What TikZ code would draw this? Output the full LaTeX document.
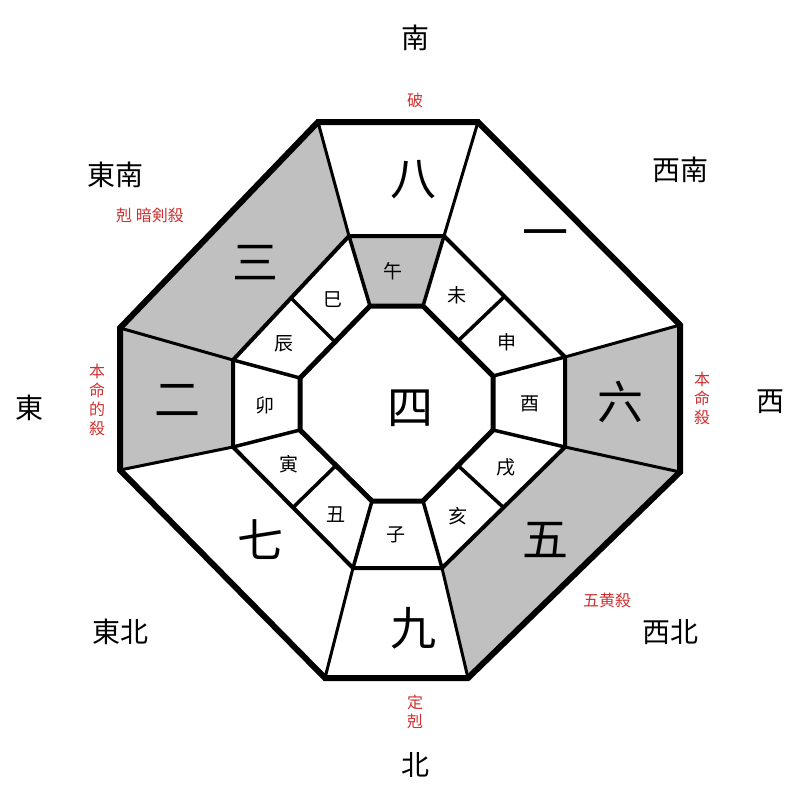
\documentclass[tikz,border=0pt]{standalone}
\usepackage{fontspec}
\usetikzlibrary{calc}
\newfontfamily\cjk{Noto Sans CJK SC}
\definecolor{cellgray}{HTML}{C0C0C0}
\definecolor{warn}{HTML}{D03030}
\tikzset{
  star/.style={font=\cjk\fontsize{46}{46}\selectfont},
  branch/.style={font=\cjk\fontsize{19}{19}\selectfont},
  dir/.style={font=\cjk\fontsize{28}{28}\selectfont},
  note/.style={font=\cjk\fontsize{16}{19}\selectfont, text=warn, align=center},
}
\begin{document}
\begin{tikzpicture}[x=1pt,y=-1pt]
        \useasboundingbox (0,0) rectangle (800,800);
        % outer octagon
        \coordinate (o1) at (318,122); \coordinate (o2) at (478,122);
        \coordinate (o3) at (680,325); \coordinate (o4) at (680,472);
        \coordinate (o5) at (468,678); \coordinate (o6) at (325,678);
        \coordinate (o7) at (120,470); \coordinate (o8) at (120,328);
        % middle octagon
        \coordinate (m1) at (349,236); \coordinate (m2) at (444,236);
        \coordinate (m3) at (565,357); \coordinate (m4) at (565,447);
        \coordinate (m5) at (442,568); \coordinate (m6) at (353,568);
        \coordinate (m7) at (233,447); \coordinate (m8) at (233,360);
        % inner octagon
        \coordinate (i1) at (370,306); \coordinate (i2) at (423,306);
        \coordinate (i3) at (493,376); \coordinate (i4) at (493,430);
        \coordinate (i5) at (423,501); \coordinate (i6) at (372,501);
        \coordinate (i7) at (300,430); \coordinate (i8) at (300,378);

        \fill[cellgray] (o1) -- (m1) -- (m8) -- (o8) -- cycle;
        \fill[cellgray] (o8) -- (m8) -- (m7) -- (o7) -- cycle;
        \fill[cellgray] (o3) -- (m3) -- (m4) -- (o4) -- cycle;
        \fill[cellgray] (o4) -- (m4) -- (m5) -- (o5) -- cycle;
        \fill[cellgray] (m1) -- (m2) -- (i2) -- (i1) -- cycle;

        \draw[line width=4pt] (m1) -- (m2) -- (m3) -- (m4) -- (m5) -- (m6) -- (m7) -- (m8) -- cycle;
        \draw[line width=3pt] (o1) -- (m1) (o2) -- (m2) (o3) -- (m3) (o4) -- (m4)
                              (o5) -- (m5) (o6) -- (m6) (o7) -- (m7) (o8) -- (m8);
        \draw[line width=3.5pt] (i1) -- (m1) (i2) -- (m2) (i3) -- (m3) (i4) -- (m4)
                                (i5) -- (m5) (i6) -- (m6) (i7) -- (m7) (i8) -- (m8);
        \draw[line width=3.5pt] ($(i2)!0.5!(i3)$) -- ($(m2)!0.5!(m3)$)
                                ($(i4)!0.5!(i5)$) -- ($(m4)!0.5!(m5)$)
                                ($(i6)!0.5!(i7)$) -- ($(m6)!0.5!(m7)$)
                                ($(i8)!0.5!(i1)$) -- ($(m8)!0.5!(m1)$);
        \draw[line width=5pt] (i1) -- (i2) -- (i3) -- (i4) -- (i5) -- (i6) -- (i7) -- (i8) -- cycle;
        \draw[line width=6pt, line join=miter] (o1) -- (o2) -- (o3) -- (o4) -- (o5) -- (o6) -- (o7) -- (o8) -- cycle;

        \node[star] (s4) at (410,408) {四};
        \node[star] (s8) at (413,180) {八};
        \node[star] (s1) at (545,240) {一};
        \node[star] (s6) at (620,402) {六};
        \node[star] (s5) at (545,540) {五};
        \node[star] (s9) at (413,628) {九};
        \node[star] (s7) at (260,540) {七};
        \node[star] (s2) at (177,400) {二};
        \node[star] (s3) at (255,263) {三};

        \node[branch] (wu) at (393,271) {午};
        \node[branch] (wei) at (457,295) {未};
        \node[branch] (shen) at (507,342) {申};
        \node[branch] (you) at (530,404) {酉};
        \node[branch] (xu) at (506,467) {戌};
        \node[branch] (hai) at (458,516) {亥};
        \node[branch] (zi) at (396,535) {子};
        \node[branch] (chou) at (336,515) {丑};
        \node[branch] (yin) at (289,464) {寅};
        \node[branch] (mao) at (265,405) {卯};
        \node[branch] (chen) at (284,344) {辰};
        \node[branch] (si) at (333,300) {巳};

        \node[dir] (south) at (415,38) {南};
        \node[dir] (north) at (415,765) {北};
        \node[dir] (east) at (30,408) {東};
        \node[dir] (west) at (770,402) {西};
        \node[dir] (se) at (115,175) {東南};
        \node[dir] (sw) at (680,170) {西南};
        \node[dir] (ne) at (120,632) {東北};
        \node[dir] (nw) at (670,632) {西北};

        \node[note] (po) at (415,100) {破};
        \node[note] (ankensatsu) at (150,215) {剋\ 暗剣殺};
        \node[note] (honmeiteki) at (97,400) {本\\命\\的\\殺};
        \node[note] (honmei) at (702,398) {本\\命\\殺};
        \node[note] (gooh) at (607,600) {五黄殺};
        \node[note] (teikoku) at (415,712) {定\\剋};
\end{tikzpicture}
\end{document}
